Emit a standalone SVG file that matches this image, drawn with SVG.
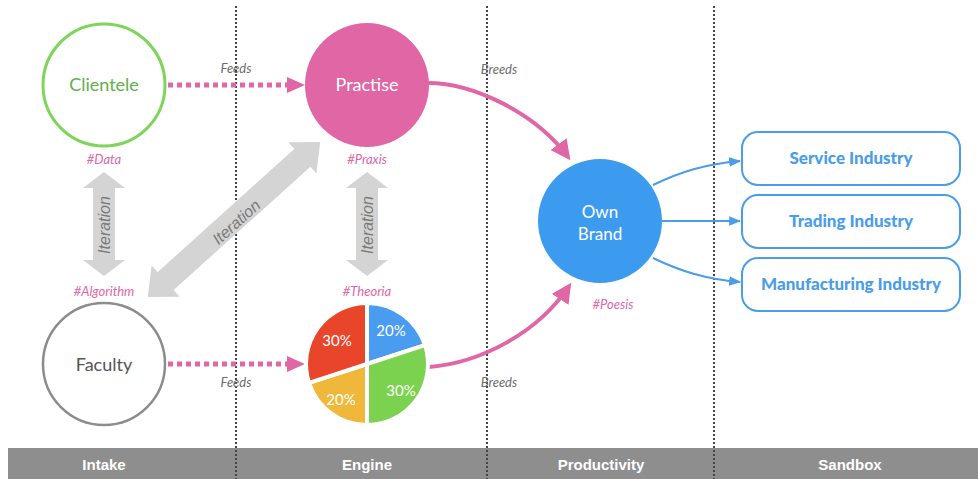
<svg xmlns="http://www.w3.org/2000/svg" width="978" height="479" viewBox="0 0 978 479">
<style>
.lbl{font-family:Lato,"Open Sans","Liberation Sans",sans-serif}
.tag{font-family:Lato,"Liberation Sans",sans-serif;font-style:italic;font-size:13px;fill:#e066a5;text-anchor:middle}
.edge{font-family:Lato,"Liberation Sans",sans-serif;font-style:italic;font-size:13px;fill:#6b6b6b;text-anchor:middle}
.iter{font-family:"Liberation Sans",Arial,sans-serif;font-style:italic;font-size:16px;fill:#7a7a7a;text-anchor:middle}
.garrow{fill:#d4d4d4}
.divider{stroke:#444;stroke-width:2;stroke-dasharray:2 2}
.bar{font-family:"Liberation Sans",Arial,sans-serif;font-weight:bold;font-size:15px;fill:#fff;text-anchor:middle}
.box{fill:#fff;stroke:#4a9de8;stroke-width:2}
.boxt{font-family:Lato,"Open Sans","Liberation Sans",sans-serif;font-weight:900;font-size:17px;fill:#4a9de8;text-anchor:middle}
.pct{font-family:Lato,"Liberation Sans",sans-serif;font-size:15px;fill:#fff;text-anchor:middle}
.feed{stroke:#e066a5;stroke-width:5;stroke-dasharray:5 4;fill:none}
.breed{stroke:#e066a5;stroke-width:4;fill:none}
.blue{stroke:#4a9de8;stroke-width:2;fill:none}
</style>
<defs>
<marker id="pinkHead" viewBox="0 0 10 10" refX="8" refY="5" markerWidth="5" markerHeight="5" orient="auto" markerUnits="strokeWidth">
<path d="M0,0 L10,5 L0,10 z" fill="#e066a5"/>
</marker>
<marker id="blueHead" viewBox="0 0 10 10" refX="9" refY="5" markerWidth="6" markerHeight="6" orient="auto" markerUnits="strokeWidth">
<path d="M0,1 L10,5 L0,9 z" fill="#4a9de8"/>
</marker>
</defs>
<rect width="978" height="479" fill="#fff"/>

<g id="bottom-bar">
<rect x="8" y="448" width="970" height="31" fill="#8e8e8e"/>
<text class="bar" x="104" y="470">Intake</text>
<text class="bar" x="367" y="470">Engine</text>
<text class="bar" x="601" y="470">Productivity</text>
<text class="bar" x="850" y="470">Sandbox</text>
</g>

<g id="dividers">
<line class="divider" x1="236" y1="6" x2="236" y2="479"/>
<line class="divider" x1="487" y1="6" x2="487" y2="479"/>
<line class="divider" x1="714" y1="6" x2="714" y2="479"/>
</g>

<g id="iteration-arrows">
<polygon class="garrow" points="104,172 125,188 115,188 115,260 125,260 104,276 83,260 93,260 93,188 83,188"/>
<text class="iter" transform="translate(110,225) rotate(-90)">Iteration</text>
<polygon class="garrow" points="367,172 388,188 378,188 378,260 388,260 367,276 346,260 356,260 356,188 346,188"/>
<text class="iter" transform="translate(373,225) rotate(-90)">Iteration</text>
<g transform="translate(234,219.5) rotate(-42)">
<polygon class="garrow" points="-116,0 -92,-21 -92,-12 92,-12 92,-21 116,0 92,21 92,12 -92,12 -92,21"/>
<text class="iter" x="0" y="9">Iteration</text>
</g>
</g>

<g id="connectors">
<line class="feed" x1="168" y1="85" x2="290" y2="85"/>
<polygon points="287,77 305,85 287,93" fill="#e066a5"/>
<line class="feed" x1="168" y1="364" x2="290" y2="364"/>
<polygon points="287,356 305,364 287,372" fill="#e066a5"/>
<text class="edge" x="236" y="73">Feeds</text>
<text class="edge" x="236" y="387">Feeds</text>
<path class="breed" d="M428,83 C472,83 535,112 568,157" marker-end="url(#pinkHead)"/>
<path class="breed" d="M429,367 C480,363 538,333 569,286" marker-end="url(#pinkHead)"/>
<text class="edge" x="499" y="74">Breeds</text>
<text class="edge" x="499" y="387">Breeds</text>
<path class="blue" d="M653,185 C680,172 705,164 740,161" marker-end="url(#blueHead)"/>
<path class="blue" d="M662,221 L740,221" marker-end="url(#blueHead)"/>
<path class="blue" d="M653,258 C680,271 705,279 740,282" marker-end="url(#blueHead)"/>
</g>

<g id="clientele">
<circle cx="104" cy="85" r="61" fill="#fff" stroke="#7ed55a" stroke-width="3"/>
<text class="lbl" x="104" y="91" font-size="18" fill="#5fb049" text-anchor="middle">Clientele</text>
<text class="tag" x="104" y="164">#Data</text>
</g>

<g id="practise">
<circle cx="367" cy="85" r="62" fill="#e066a5"/>
<text class="lbl" x="367" y="91" font-size="18" fill="#fff" text-anchor="middle">Practise</text>
<text class="tag" x="367" y="164">#Praxis</text>
</g>

<g id="faculty">
<circle cx="104" cy="364" r="61" fill="#fff" stroke="#8c8c8c" stroke-width="2.5"/>
<text class="lbl" x="104" y="371" font-size="18" fill="#555" text-anchor="middle">Faculty</text>
<text class="tag" x="104" y="296">#Algorithm</text>
</g>

<g id="theoria">
<text class="tag" x="367" y="296">#Theoria</text>
<g stroke="#fff" stroke-width="4" stroke-linejoin="round">
<path d="M367,364 L367,303 A61,61 0 0 1 425,345.2 Z" fill="#4a9cf0"/>
<path d="M367,364 L425,345.2 A61,61 0 0 1 367,425 Z" fill="#7bd24e"/>
<path d="M367,364 L367,425 A61,61 0 0 1 309,382.8 Z" fill="#f0b83a"/>
<path d="M367,364 L309,382.8 A61,61 0 0 1 367,303 Z" fill="#e8452a"/>
</g>
<text class="pct" x="337" y="346">30%</text>
<text class="pct" x="391" y="336">20%</text>
<text class="pct" x="401" y="396">30%</text>
<text class="pct" x="341" y="405">20%</text>
</g>

<g id="own-brand">
<circle cx="600" cy="221" r="62" fill="#3d9bef"/>
<text class="lbl" x="600" y="218" font-size="17" fill="#fff" text-anchor="middle">Own</text>
<text class="lbl" x="600" y="240" font-size="17" fill="#fff" text-anchor="middle">Brand</text>
<text class="tag" x="613" y="309">#Poesis</text>
</g>

<g id="service-industry">
<rect class="box" x="742" y="132" width="218" height="53" rx="16"/>
<text class="boxt" x="851" y="164">Service Industry</text>
</g>
<g id="trading-industry">
<rect class="box" x="742" y="195" width="218" height="53" rx="16"/>
<text class="boxt" x="851" y="227">Trading Industry</text>
</g>
<g id="manufacturing-industry">
<rect class="box" x="742" y="258" width="218" height="53" rx="16"/>
<text class="boxt" x="851" y="290">Manufacturing Industry</text>
</g>
</svg>
